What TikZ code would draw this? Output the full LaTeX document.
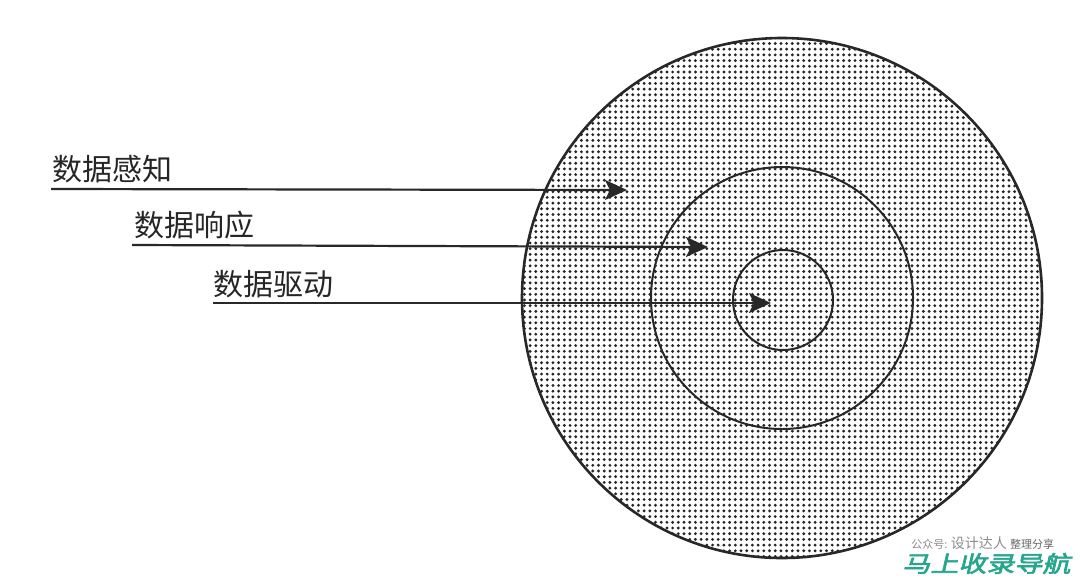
\documentclass[tikz,border=0pt]{standalone}
\usepackage{fontspec}
\newfontfamily\cjk{Noto Sans CJK SC}
\newfontfamily\markfont[FakeSlant=0.18,FakeBold=2.5]{Noto Sans CJK SC}
\usetikzlibrary{arrows.meta,patterns.meta}
\definecolor{inkgray}{RGB}{40,40,40}
\definecolor{markteal}{RGB}{38,166,140}
\tikzdeclarepattern{name=halftone,type=uncolored,
  bounding box={(-1.425pt,-1.425pt) and (1.425pt,1.425pt)},
  tile size={(2.85pt,2.85pt)},
  code={\fill (0pt,0pt) circle (0.8pt);}}

\begin{document}
\begin{tikzpicture}[x=0.5pt,y=-0.5pt,
  tag/.style={font=\cjk\fontsize{15pt}{18pt}\selectfont,text=black!85,inner sep=0pt,anchor=base west},
  ring/.style={draw=inkgray,line width=1pt},
  ray/.style={draw=inkgray,line width=1.1pt,-{Stealth[length=11pt,width=10pt,inset=2.5pt]}}]
\def\cx{782};
\def\cy{298};
\def\ra{260};
\def\rb{131};
\def\rc{50};

\useasboundingbox (0,0) rectangle (1080,585);

\fill[pattern=halftone,pattern color=black!85] (\cx,\cy) circle (\ra);
\draw[ring,line width=1.3pt] (\cx,\cy) circle (\ra);
\draw[ring] (\cx,\cy) circle (\rb);
\draw[ring] (\cx+1,\cy+2) circle (\rc);

\node[tag] (T1) at (52,180) {数据感知};
\coordinate (S1) at (51,189);
\coordinate (E1) at (627,190);
\draw[ray] (S1) -- (E1);

\node[tag] (T2) at (134,236) {数据响应};
\coordinate (S2) at (132,245);
\coordinate (E2) at (708,247);
\draw[ray] (S2) -- (E2);

\node[tag] (T3) at (213,295) {数据驱动};
\coordinate (S3) at (213,303);
\coordinate (E3) at (771,303);
\draw[ray] (S3) -- (E3);

\node[anchor=base west,inner sep=0pt,text=black!45] (W1) at (911,548)
  {\cjk{\fontsize{5.5pt}{6pt}\selectfont 公众号:}\,{\fontsize{7pt}{8pt}\selectfont 设计达人}\,{\fontsize{5.5pt}{6pt}\selectfont\color{black!60} 整理分享}};
\node[anchor=base west,inner sep=0pt,text=markteal] (W2) at (902,572)
  {\scalebox{1}[0.8]{\markfont\fontsize{14pt}{15pt}\selectfont 马上收录导航}};
\end{tikzpicture}
\end{document}
